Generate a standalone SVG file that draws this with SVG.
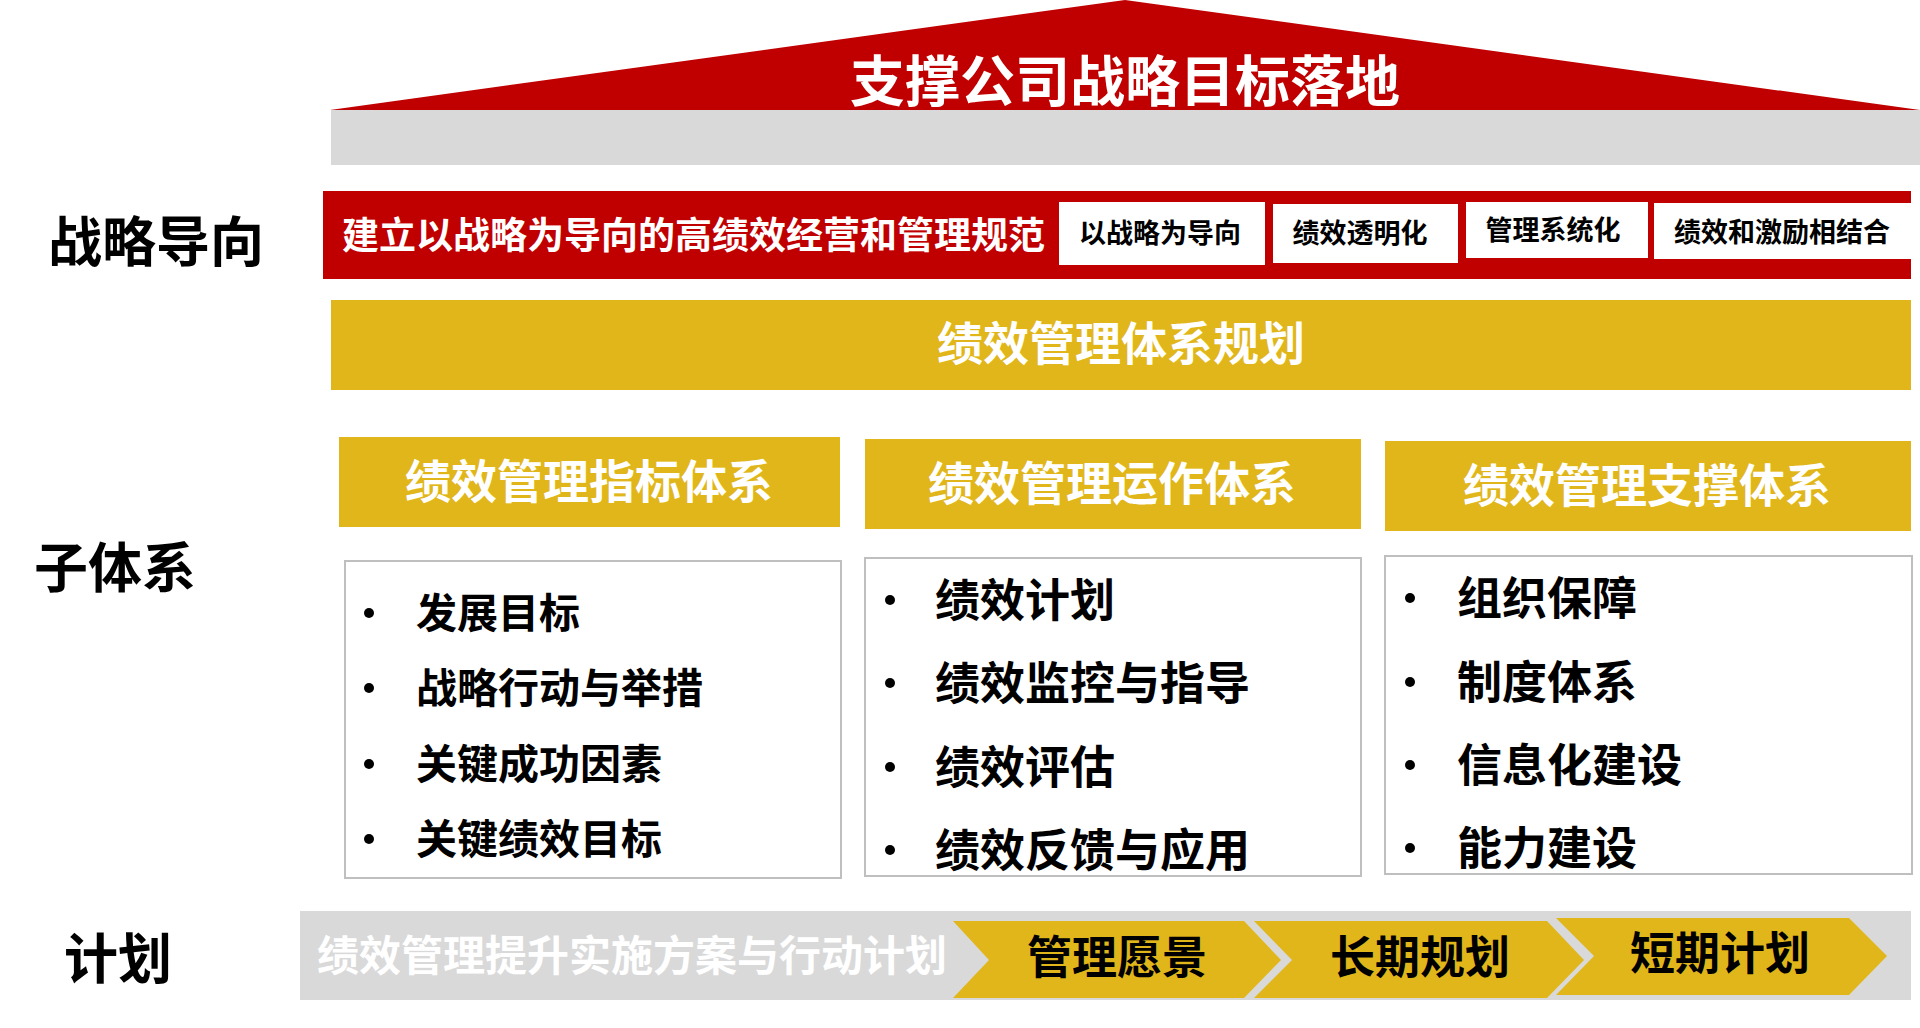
<svg xmlns="http://www.w3.org/2000/svg" width="1920" height="1028" viewBox="0 0 1920 1028">
<style>
text{font-family:"Noto Sans CJK SC","Noto Sans",sans-serif;font-weight:700;dominant-baseline:central}
.w{fill:#FFFFFF}
.k{fill:#000000}
.c{text-anchor:middle}
.red{fill:#C00000}
.gold{fill:#E1B61A}
.gray{fill:#D9D9D9}
.box{fill:#FFFFFF;stroke:#BFBFBF;stroke-width:2}
.wb{fill:#FFFFFF}
</style>
<rect width="1920" height="1028" fill="#FFFFFF"/>
<g id="roof">
<polygon class="red" points="330,110 1125,0 1920,110"/>
<rect class="gray" x="331" y="110" width="1589" height="55"/>
<text class="w c" x="1125" y="77" font-size="55">支撑公司战略目标落地</text>
</g>
<g id="label-strategy"><text class="k" x="48" y="238" font-size="54">战略导向</text></g>
<g id="label-sub"><text class="k" x="34" y="564" font-size="54">子体系</text></g>
<g id="label-plan"><text class="k" x="64" y="955" font-size="54">计划</text></g>
<g id="strategy-band">
<rect class="red" x="323" y="191" width="1588" height="88"/>
<text class="w" x="342" y="233" font-size="37">建立以战略为导向的高绩效经营和管理规范</text>
</g>
<g id="tag1"><rect class="wb" x="1059" y="202" width="206" height="63"/><text class="k c" x="1160" y="231" font-size="27">以战略为导向</text></g>
<g id="tag2"><rect class="wb" x="1273" y="204" width="185" height="59"/><text class="k c" x="1360" y="231" font-size="27">绩效透明化</text></g>
<g id="tag3"><rect class="wb" x="1466" y="202" width="182" height="56"/><text class="k c" x="1553" y="228" font-size="27">管理系统化</text></g>
<g id="tag4"><rect class="wb" x="1654" y="203" width="257" height="56"/><text class="k c" x="1782" y="230" font-size="27">绩效和激励相结合</text></g>
<g id="planning-band">
<rect class="gold" x="331" y="300" width="1580" height="90"/>
<text class="w c" x="1121" y="340" font-size="46">绩效管理体系规划</text>
</g>
<g id="header1"><rect class="gold" x="339" y="437" width="501" height="90"/><text class="w c" x="589" y="478" font-size="46">绩效管理指标体系</text></g>
<g id="header2"><rect class="gold" x="865" y="439" width="496" height="90"/><text class="w c" x="1112" y="480" font-size="46">绩效管理运作体系</text></g>
<g id="header3"><rect class="gold" x="1385" y="441" width="526" height="90"/><text class="w c" x="1647" y="482" font-size="46">绩效管理支撑体系</text></g>
<g id="list1">
<rect class="box" x="345" y="561" width="496" height="317"/>
<circle cx="369" cy="613" r="5"/><text class="k" x="416" y="610" font-size="41">发展目标</text>
<circle cx="369" cy="688" r="5"/><text class="k" x="416" y="685" font-size="41">战略行动与举措</text>
<circle cx="369" cy="764" r="5"/><text class="k" x="416" y="761" font-size="41">关键成功因素</text>
<circle cx="369" cy="839" r="5"/><text class="k" x="416" y="836" font-size="41">关键绩效目标</text>
</g>
<g id="list2">
<rect class="box" x="865" y="558" width="496" height="318"/>
<circle cx="890" cy="600" r="5"/><text class="k" x="935" y="597" font-size="45">绩效计划</text>
<circle cx="890" cy="683" r="5"/><text class="k" x="935" y="680" font-size="45">绩效监控与指导</text>
<circle cx="890" cy="767" r="5"/><text class="k" x="935" y="764" font-size="45">绩效评估</text>
<circle cx="890" cy="850" r="5"/><text class="k" x="935" y="847" font-size="45">绩效反馈与应用</text>
</g>
<g id="list3">
<rect class="box" x="1385" y="556" width="527" height="318"/>
<circle cx="1410" cy="598" r="5"/><text class="k" x="1457" y="595" font-size="45">组织保障</text>
<circle cx="1410" cy="682" r="5"/><text class="k" x="1457" y="679" font-size="45">制度体系</text>
<circle cx="1410" cy="765" r="5"/><text class="k" x="1457" y="762" font-size="45">信息化建设</text>
<circle cx="1410" cy="848" r="5"/><text class="k" x="1457" y="845" font-size="45">能力建设</text>
</g>
<g id="plan-band">
<rect class="gray" x="300" y="911" width="1611" height="89"/>
<text class="w" x="317" y="952" font-size="42">绩效管理提升实施方案与行动计划</text>
</g>
<g id="chevron1"><polygon class="gold" points="953,921 1244,921 1281,960 1244,998 953,998 989,960"/><text class="k c" x="1117" y="954" font-size="45">管理愿景</text></g>
<g id="chevron2"><polygon class="gold" points="1254,921 1547,921 1584,960 1547,998 1254,998 1292,960"/><text class="k c" x="1420" y="954" font-size="45">长期规划</text></g>
<g id="chevron3"><polygon class="gold" points="1556,918 1849,918 1887,956 1849,995 1556,995 1594,956"/><text class="k c" x="1720" y="950" font-size="45">短期计划</text></g>
<g id="connectors"></g>
</svg>
